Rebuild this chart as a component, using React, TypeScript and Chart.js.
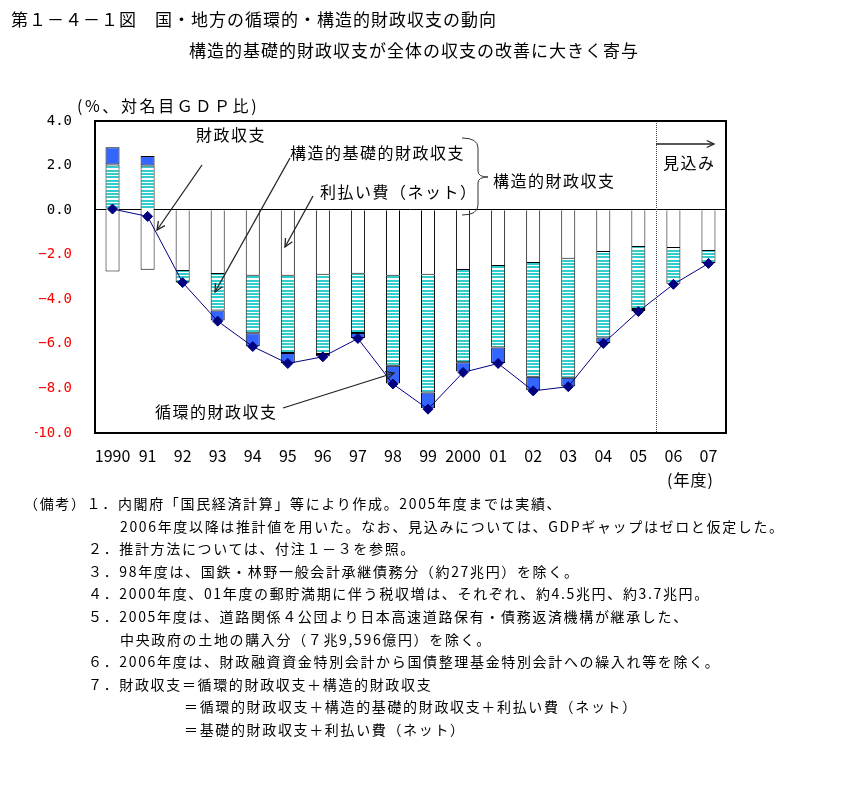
import React, { useEffect, useRef } from 'react';
import { Chart, registerables } from 'chart.js';

Chart.register(...registerables);

// ---- data ----
const years = ['1990', '91', '92', '93', '94', '95', '96', '97', '98', '99', '2000', '01', '02', '03', '04', '05', '06', '07'];
// 利払い費（ネット）
const interestNet = [-2.75, -2.67, -2.73, -2.87, -2.94, -2.94, -2.9, -2.85, -2.94, -2.9, -2.69, -2.51, -2.37, -2.18, -1.88, -1.65, -1.7, -1.83];
// 構造的基礎的財政収支
const structuralPrimary = [2.05, 2.0, -0.5, -1.63, -2.58, -3.47, -3.56, -2.66, -4.04, -5.28, -4.13, -3.65, -5.11, -5.34, -3.84, -2.79, -1.6, -0.54];
// 循環的財政収支
const cyclical = [0.77, 0.43, -0.03, -0.45, -0.59, -0.45, -0.1, -0.23, -0.8, -0.71, -0.42, -0.7, -0.6, -0.38, -0.24, -0.09, 0, 0];
// 財政収支
const fiscalBalance = [0.05, -0.28, -3.25, -4.98, -6.12, -6.88, -6.58, -5.76, -7.8, -8.93, -7.28, -6.88, -8.11, -7.92, -5.98, -4.55, -3.33, -2.39];

const titleText = '第１－４－１図　国・地方の循環的・構造的財政収支の動向';
const subtitleText = '構造的基礎的財政収支が全体の収支の改善に大きく寄与';
const unitText = '(%、対名目ＧＤＰ比)';
const xUnitText = '(年度)';

const noteLines: [number, string][] = [
  [24, '（備考）１．内閣府「国民経済計算」等により作成。2005年度までは実績、'],
  [120, '2006年度以降は推計値を用いた。なお、見込みについては、GDPギャップはゼロと仮定した。'],
  [88, '２．推計方法については、付注１－３を参照。'],
  [88, '３．98年度は、国鉄・林野一般会計承継債務分（約27兆円）を除く。'],
  [88, '４．2000年度、01年度の郵貯満期に伴う税収増は、それぞれ、約4.5兆円、約3.7兆円。'],
  [88, '５．2005年度は、道路関係４公団より日本高速道路保有・債務返済機構が継承した、'],
  [120, '中央政府の土地の購入分（７兆9,596億円）を除く。'],
  [88, '６．2006年度は、財政融資資金特別会計から国債整理基金特別会計への繰入れ等を除く。'],
  [88, '７．財政収支＝循環的財政収支＋構造的財政収支'],
  [184, '＝循環的財政収支＋構造的基礎的財政収支＋利払い費（ネット）'],
  [184, '＝基礎的財政収支＋利払い費（ネット）'],
];

const JP = '"Noto Sans CJK JP", "Noto Sans", sans-serif';

function makeStripe(): CanvasPattern | string {
  const c = document.createElement('canvas');
  c.width = 4;
  c.height = 10;
  const g = c.getContext('2d');
  if (!g) return '#33CCCC';
  g.fillStyle = '#FFFFFF';
  g.fillRect(0, 0, 4, 10);
  g.fillStyle = '#33CCCC';
  [0, 3, 6].forEach((y) => g.fillRect(0, y, 4, 2));
  return g.createPattern(c, 'repeat') || '#33CCCC';
}

function arrow(ctx: CanvasRenderingContext2D, x1: number, y1: number, x2: number, y2: number, head = 9) {
  ctx.beginPath();
  ctx.moveTo(x1, y1);
  ctx.lineTo(x2, y2);
  ctx.stroke();
  const a = Math.atan2(y2 - y1, x2 - x1);
  ctx.beginPath();
  ctx.moveTo(x2 - head * Math.cos(a - 0.45), y2 - head * Math.sin(a - 0.45));
  ctx.lineTo(x2, y2);
  ctx.lineTo(x2 - head * Math.cos(a + 0.45), y2 - head * Math.sin(a + 0.45));
  ctx.stroke();
}

const decorPlugin = {
  id: 'decor',
  beforeDatasetsDraw(chart: any) {
    const { ctx, chartArea: a, scales } = chart;
    const x = scales.x;
    const y = scales.y;
    ctx.save();
    const y0 = Math.round(y.getPixelForValue(0)) - 0.5;
    ctx.strokeStyle = '#000';
    ctx.lineWidth = 1;
    ctx.beginPath();
    ctx.moveTo(a.left, y0);
    ctx.lineTo(a.right, y0);
    ctx.stroke();
    const xd = Math.round((x.getPixelForValue(15) + x.getPixelForValue(16)) / 2) + 0.5;
    ctx.setLineDash([1, 1]);
    ctx.strokeStyle = '#444';
    ctx.beginPath();
    ctx.moveTo(xd, a.top);
    ctx.lineTo(xd, a.bottom);
    ctx.stroke();
    ctx.restore();
  },
  afterDraw(chart: any) {
    const { ctx, chartArea: a } = chart;
    ctx.save();
    // frame
    ctx.strokeStyle = '#000';
    ctx.lineWidth = 2;
    ctx.strokeRect(a.left, a.top, a.right - a.left, a.bottom - a.top);

    // annotation texts
    ctx.fillStyle = '#000';
    ctx.font = `16px ${JP}`;
    (ctx as any).letterSpacing = '1.5px';
    ctx.textBaseline = 'middle';
    ctx.textAlign = 'left';
    ctx.fillText('財政収支', 196, 135);
    ctx.fillText('構造的基礎的財政収支', 290, 153);
    ctx.fillText('利払い費（ネット）', 320, 192);
    ctx.fillText('構造的財政収支', 493, 181);
    ctx.fillText('見込み', 663, 163);
    ctx.fillText('循環的財政収支', 155, 412);

    // arrows
    ctx.strokeStyle = '#222';
    ctx.lineWidth = 1.3;
    arrow(ctx, 202, 165, 157, 230);
    arrow(ctx, 290, 158, 215, 292);
    arrow(ctx, 313, 196, 285, 247);
    arrow(ctx, 283, 408, 394, 373);
    arrow(ctx, 656, 144, 714, 144, 8);

    // brace
    ctx.lineWidth = 1;
    ctx.strokeStyle = '#333';
    ctx.beginPath();
    ctx.moveTo(462, 138);
    ctx.quadraticCurveTo(478, 138, 478, 148);
    ctx.lineTo(478, 171);
    ctx.quadraticCurveTo(478, 177, 488, 177);
    ctx.quadraticCurveTo(478, 177, 478, 183);
    ctx.lineTo(478, 205);
    ctx.quadraticCurveTo(478, 215, 462, 215);
    ctx.stroke();
    ctx.restore();
  },
};

export default function App() {
  const ref = useRef<HTMLCanvasElement | null>(null);

  useEffect(() => {
    if (!ref.current) return;
    const stripe = makeStripe();
    const chart = new Chart(ref.current, {
      type: 'bar',
      data: {
        labels: years,
        datasets: [
          {
            type: 'line',
            label: '財政収支',
            data: fiscalBalance,
            borderColor: '#000080',
            borderWidth: 1,
            backgroundColor: '#000080',
            pointStyle: 'rectRot',
            pointRadius: 5,
            pointBackgroundColor: '#000080',
            pointBorderColor: '#000080',
            tension: 0,
            stack: 'line',
            order: 0,
          } as any,
          {
            type: 'bar',
            label: '利払い費（ネット）',
            data: interestNet,
            backgroundColor: '#FFFFFF',
            borderColor: '#000000',
            borderWidth: 1,
            borderSkipped: 'start',
            stack: 's',
            order: 1,
          },
          {
            type: 'bar',
            label: '構造的基礎的財政収支',
            data: structuralPrimary,
            backgroundColor: stripe as any,
            borderColor: '#000000',
            borderWidth: 1,
            borderSkipped: 'start',
            stack: 's',
            order: 1,
          },
          {
            type: 'bar',
            label: '循環的財政収支',
            data: cyclical,
            backgroundColor: '#3366FF',
            borderColor: '#000000',
            borderWidth: 1,
            borderSkipped: false,
            stack: 's',
            order: 1,
          },
        ],
      },
      options: {
        responsive: false,
        animation: false,
        datasets: { bar: { barPercentage: 0.4, categoryPercentage: 1.0 } },
        layout: { padding: { left: 35, right: 116, top: 121, bottom: 333 } },
        plugins: {
          legend: { display: false },
          tooltip: { enabled: false },
        },
        scales: {
          x: {
            stacked: true,
            grid: { display: false, drawTicks: false },
            border: { display: false },
            ticks: {
              color: '#000',
              font: { family: JP, size: 16 },
              padding: 13,
              autoSkip: false,
              maxRotation: 0,
            },
            afterFit: (s: any) => {
              s.height = 40;
            },
          },
          y: {
            stacked: true,
            min: -10,
            max: 4,
            grid: { display: false, drawTicks: false },
            border: { display: false },
            ticks: {
              stepSize: 2,
              font: { family: '"DejaVu Sans Mono", monospace', size: 14 },
              color: (c: any) => (c.tick && c.tick.value < 0 ? '#FF0000' : '#000000'),
              padding: 23,
              callback: (v: any) => Number(v).toFixed(1).replace('-', '\u2212'),
            },
            afterFit: (s: any) => {
              s.width = 60;
            },
          },
        },
      },
      plugins: [decorPlugin],
    });
    return () => chart.destroy();
  }, []);

  const txt = (left: number, cy: number, size: number, spacing: number, text: string, key?: any) => (
    <div
      key={key}
      style={{
        position: 'absolute',
        left,
        top: cy - 11,
        fontFamily: JP,
        fontSize: size,
        lineHeight: '20px',
        letterSpacing: spacing,
        whiteSpace: 'nowrap',
        color: '#000',
      }}
    >
      {text}
    </div>
  );

  return (
    <div style={{ position: 'absolute', left: 0, top: 0, width: 842, height: 806, background: '#fff', overflow: 'hidden' }}>
      <canvas ref={ref} width={842} height={806} style={{ position: 'absolute', left: 0, top: 0, width: 842, height: 806, display: 'block' }} />
      {txt(11, 20, 17, 1, titleText)}
      {txt(189, 51, 17, 1, subtitleText)}
      {txt(77, 106, 16, 2.6, unitText)}
      {txt(667, 480, 16, 1, xUnitText)}
      {noteLines.map(([x, t], i) => txt(x, 504 + i * 22.6, 14, 1.65, t, i))}
    </div>
  );
}
